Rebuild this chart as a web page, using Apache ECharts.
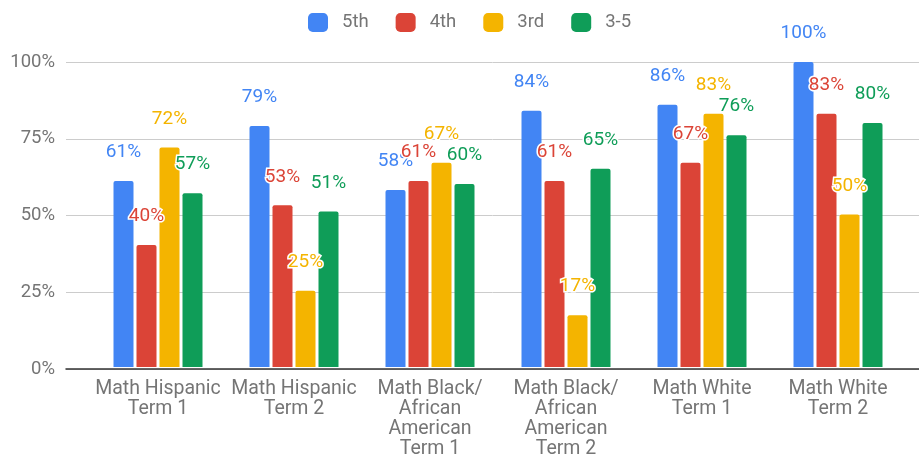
<!DOCTYPE html>
<html><head><meta charset="utf-8">
<script src="https://cdn.jsdelivr.net/npm/echarts@6/dist/echarts.min.js"></script>
<style>html,body{margin:0;padding:0;background:#fff}#c{width:919px;height:459px}</style>
</head><body><div id="c"></div>
<script>
const categories = ["Math Hispanic\nTerm 1","Math Hispanic\nTerm 2","Math Black/\nAfrican\nAmerican\nTerm 1","Math Black/\nAfrican\nAmerican\nTerm 2","Math White\nTerm 1","Math White\nTerm 2"];
const seriesNames = ["5th","4th","3rd","3-5"];
const s5th = [61,79,58,84,86,100];
const s4th = [40,53,61,61,67,83];
const s3rd = [72,25,67,17,83,50];
const s35  = [57,51,60,65,76,80];
const yTicks = [0,25,50,75,100];
const colors = ["#4285F4","#DB4437","#F4B400","#0F9D58"];
const allData = [s5th,s4th,s3rd,s35];
const font = 'Roboto';
const chart = echarts.init(document.getElementById('c'));
chart.setOption({
  animation:false,
  textStyle:{fontFamily:font},
  legend:{top:8,left:303,itemWidth:20,itemHeight:19,itemGap:27,icon:'roundRect',
    textStyle:{fontSize:18.5,color:'#757575',fontFamily:font,padding:[0,0,0,9]},
    data:seriesNames},
  grid:[{left:66,right:0,top:62,bottom:90},{left:90,right:13,top:62,bottom:90}],
  xAxis:[
    {type:'category',gridIndex:0,data:[''],axisLine:{show:true,lineStyle:{color:'#333',width:1.5}},axisTick:{show:false},axisLabel:{show:false}},
    {type:'category',gridIndex:1,data:categories,axisLine:{show:false},axisTick:{show:false},
      axisLabel:{fontSize:19.5,color:'#757575',lineHeight:20,margin:12,interval:0,fontFamily:font}}
  ],
  yAxis:[
    {type:'value',gridIndex:0,min:yTicks[0],max:yTicks[yTicks.length-1],interval:25,
      axisLabel:{formatter:'{value}%',fontSize:18.5,color:'#757575',margin:11,fontFamily:font},
      splitLine:{lineStyle:{color:'#cccccc',width:1}},axisLine:{show:false},axisTick:{show:false}},
    {type:'value',gridIndex:1,min:0,max:100,show:false,splitLine:{show:false}}
  ],
  series: seriesNames.map((n,i)=>({
    name:n,type:'bar',xAxisIndex:1,yAxisIndex:1,data:allData[i],
    barWidth:20,barGap:'15%',
    itemStyle:{color:colors[i],borderRadius:[2,2,0,0]},
    label:{show:true,position:'top',distance:19,formatter:'{c}%',fontSize:19,color:colors[i],
      textBorderColor:'#fff',textBorderWidth:3,fontFamily:font}
  }))
});
</script></body></html>
